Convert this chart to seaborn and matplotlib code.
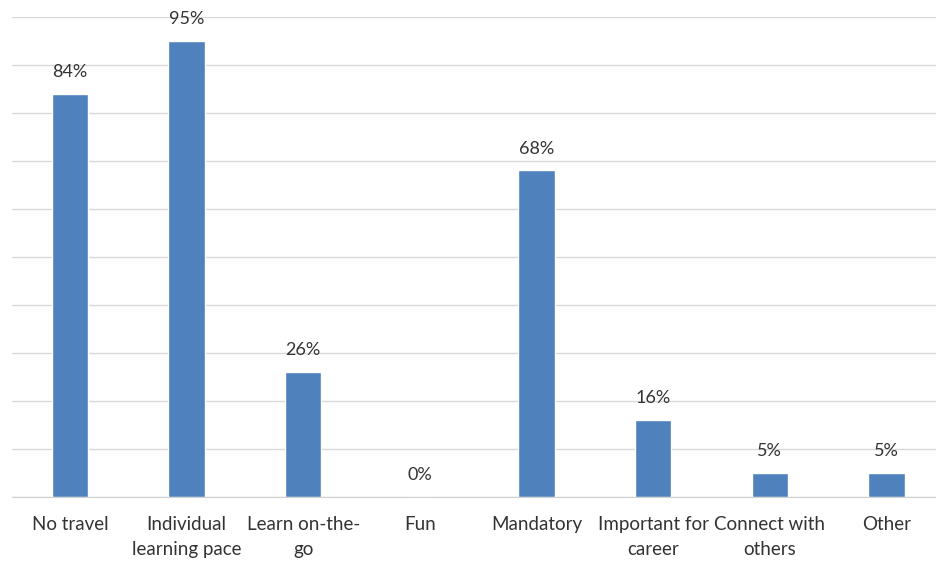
import pandas as pd
import seaborn as sns
import matplotlib.pyplot as plt

# Survey answers and their share
reasons = ['No travel', 'Individual\nlearning pace', 'Learn on-the-\ngo', 'Fun',
           'Mandatory', 'Important for\ncareer', 'Connect with\nothers', 'Other']
shares = [84, 95, 26, 0, 68, 16, 5, 5]

df = pd.DataFrame({'reason': reasons, 'share': shares})

sns.set_style('white')
plt.rcParams['font.family'] = ['Lato', 'DejaVu Sans']

fig = plt.figure(figsize=(9.36, 5.61), dpi=100)
ax = fig.add_axes([0.0124, 0.114, 0.997, 0.856])

sns.barplot(x='reason', y='share', data=df, color='#4f81bd', width=0.31,
            saturation=1, ax=ax)

ax.set_ylim(0, 100)
ax.set_yticks(range(0, 101, 10))
ax.set_yticklabels([])
ax.tick_params(axis='y', length=0)
ax.tick_params(axis='x', length=0, labelsize=13.5, colors='#333333', pad=14)
for lbl in ax.get_xticklabels():
    lbl.set_linespacing(1.55)
ax.grid(axis='y', color='#d9d9d9', linewidth=1)
ax.set_axisbelow(True)
for side in ['top', 'right', 'left']:
    ax.spines[side].set_visible(False)
ax.spines['bottom'].set_color('#d0d0d0')
ax.set_xlabel('')
ax.set_ylabel('')

# Value labels above each bar
for i, v in enumerate(shares):
    ax.annotate(f'{v}%', (i, v), xytext=(0, 10), textcoords='offset points',
                ha='center', va='bottom', fontsize=13, color='#333333')

plt.savefig('out.png', dpi=100)
